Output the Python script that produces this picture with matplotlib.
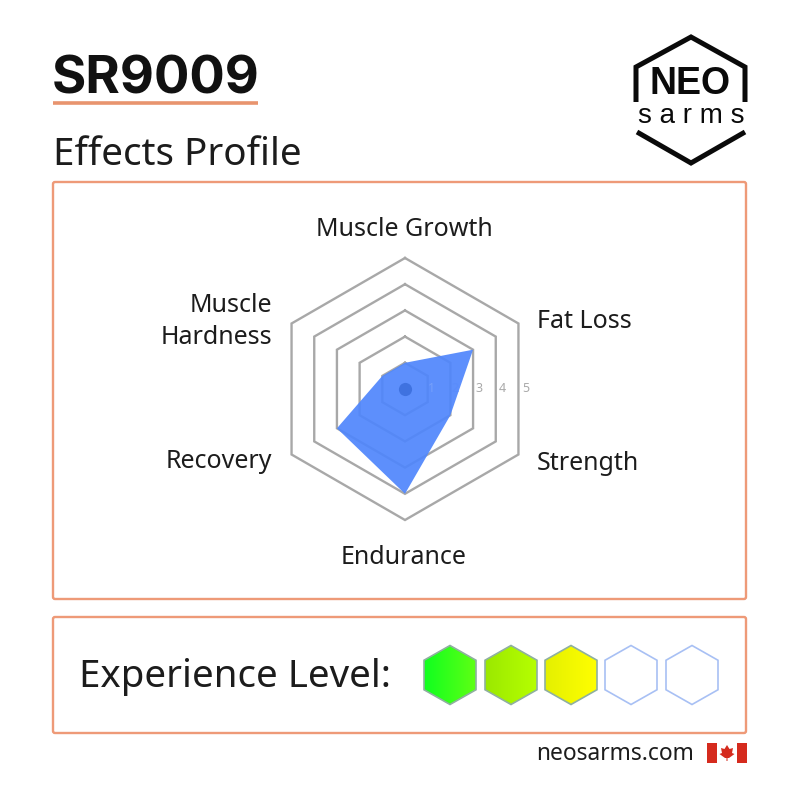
import numpy as np
import matplotlib
matplotlib.use("Agg")
import matplotlib.pyplot as plt
from matplotlib.patches import Polygon, FancyBboxPatch, Rectangle
from matplotlib.colors import LinearSegmentedColormap

categories = ["Muscle Growth", "Fat Loss", "Strength", "Endurance", "Recovery", "Muscle\nHardness"]
values = [1, 3, 2, 4, 3, 1]
ring_levels = [1, 2, 3, 4, 5]
tick_labels = ["1", "2", "3", "4", "5"]
experience_filled = [("#10ff20", "#5eff14"), ("#9be800", "#b6ff00"), ("#e4f000", "#ffff00")]
experience_total = 5

plt.rcParams["font.family"] = ["Noto Sans", "DejaVu Sans"]
ORANGE = "#ee9a78"
TXT = "#1c1c1c"

fig = plt.figure(figsize=(8, 8), dpi=100, facecolor="white")
bg = fig.add_axes([0, 0, 1, 1])
bg.set_xlim(0, 800); bg.set_ylim(800, 0); bg.axis("off")

# Header
bg.text(52, 74, "SR9009", fontsize=37.8, fontweight="bold", color="#111111", va="center_baseline", ha="left", family="Inter")
bg.plot([53, 258], [102.5, 102.5], color="#e8946e", lw=2.6, solid_capstyle="butt")
bg.text(53, 155, "Effects Profile", fontsize=27.8, color=TXT, va="center", ha="left")

# Frames
for (x0, y0, x1, y1) in [(53, 182, 746, 599), (53, 617, 746, 733)]:
    bg.add_patch(FancyBboxPatch((x0, y0), x1 - x0, y1 - y0, boxstyle="round,pad=0,rounding_size=2",
                                fc="white", ec=ORANGE, lw=1.7))

# Logo
bg.plot([636, 636, 691, 745, 745], [102, 67, 37, 67, 102], color="#0a0a0a", lw=3.6, solid_joinstyle="miter", solid_capstyle="butt")
bg.plot([637, 691, 745], [132, 163, 132], color="#0a0a0a", lw=3.6, solid_joinstyle="miter", solid_capstyle="butt")
bg.text(690.5, 84.5, "NEO", fontsize=27, fontweight="bold", color="#0a0a0a", ha="center", va="center", family="Liberation Sans")
bg.text(691, 116, "s a r m s", fontsize=20, color="#0a0a0a", ha="center", va="center", family="Liberation Sans")

# Radar
cx, cy, R = 405, 389, 131
ax = fig.add_axes([(cx - R) / 800, (800 - cy - R) / 800, 2 * R / 800, 2 * R / 800], polar=True, facecolor="none")
ax.set_theta_zero_location("N"); ax.set_theta_direction(-1)
ax.set_ylim(0, 5); ax.axis("off")
n = len(categories)
theta = np.linspace(0, 2 * np.pi, n, endpoint=False)
tc = np.r_[theta, theta[0]]
for lv in ring_levels:
    ax.plot(tc, [lv] * (n + 1), color="#a8a8a8", lw=1.7, clip_on=False, solid_joinstyle="miter", zorder=1)
ax.fill(tc, np.r_[values, values[0]], color="#4f86fc", alpha=0.92, lw=0, zorder=2)
ax.scatter([0], [0], s=90, color="#3f72e0", zorder=3, lw=0)

# Radial tick labels
tick_colors = ["#76a0fb", "#5a8cfb", "#a9a9a9", "#a9a9a9", "#a9a9a9"]
for lv, t, col in zip(ring_levels, tick_labels, tick_colors):
    ax.text(np.pi / 2, lv * 0.897 + 0.13, t, fontsize=9, color=col, ha="center", va="center", zorder=5, clip_on=False)

# Category labels
label_pos = [(404, 229, "center"), (537, 321, "left"), (537, 463, "left"),
             (404, 557, "center"), (272, 462, "right"), (272, 321.5, "right")]
for c, (x, y, ha) in zip(categories, label_pos):
    bg.text(x, y, c, fontsize=18, color=TXT, ha=ha, va="center", linespacing=1.38, multialignment="right" if ha == "right" else "center")

# Experience
bg.text(79, 677, "Experience Level:", fontsize=27.7, color=TXT, ha="left", va="center")
centers = [450, 511, 571, 631, 692]
hw, hh = 26, 29.5
for i in range(experience_total):
    xc = centers[i]; yc = 675
    pts = [(xc, yc - hh), (xc + hw, yc - hh / 2), (xc + hw, yc + hh / 2), (xc, yc + hh), (xc - hw, yc + hh / 2), (xc - hw, yc - hh / 2)]
    if i < len(experience_filled):
        cmap = LinearSegmentedColormap.from_list("g", experience_filled[i])
        im = bg.imshow(np.linspace(0, 1, 64)[None, :], extent=(xc - hw, xc + hw, yc + hh, yc - hh), cmap=cmap, aspect="auto", zorder=3)
        p = Polygon(pts, closed=True, fc="none", ec="#8fb0a0", lw=1.2, zorder=4)
        bg.add_patch(p)
        im.set_clip_path(p)
    else:
        bg.add_patch(Polygon(pts, closed=True, fc="white", ec="#a8c0f4", lw=1.2, zorder=4))
bg.set_xlim(0, 800); bg.set_ylim(800, 0)

# Footer
bg.text(694, 754, "neosarms.com", fontsize=16.4, color=TXT, ha="right", va="center")
bg.add_patch(Rectangle((707, 743), 40, 20, fc="white", ec="none"))
bg.add_patch(Rectangle((707, 743), 10, 20, fc="#d52b1e", ec="none"))
bg.add_patch(Rectangle((737, 743), 10, 20, fc="#d52b1e", ec="none"))
leaf = [(727, 745), (729.5, 749), (733, 748), (732, 753), (734.5, 754), (729, 758), (727.5, 758), (727.5, 761),
        (726.5, 761), (726.5, 758), (725, 758), (719.5, 754), (722, 753), (721, 748), (724.5, 749)]
bg.add_patch(Polygon(leaf, closed=True, fc="#d52b1e", ec="none"))

fig.savefig("out.png", dpi=100)
